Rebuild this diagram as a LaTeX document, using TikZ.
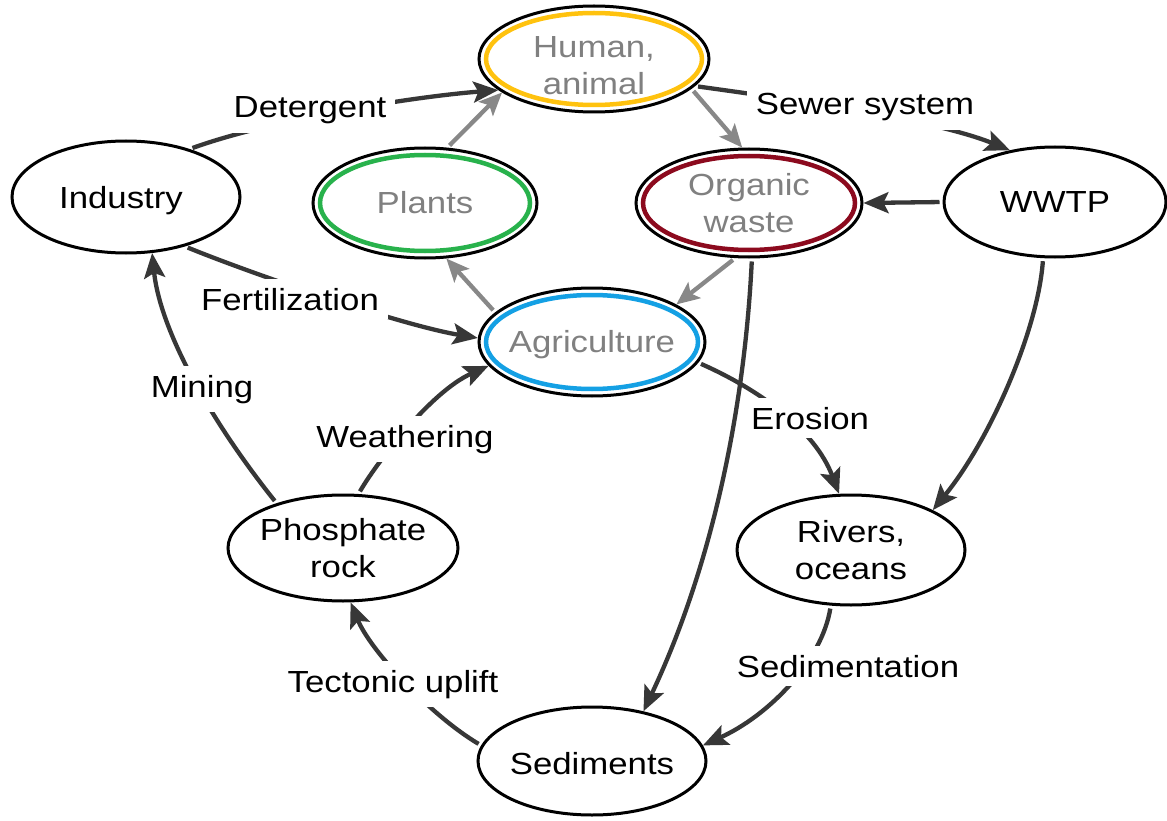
\documentclass[tikz,border=0pt]{standalone}
\usepackage{fontspec}
\setmainfont[FakeStretch=1.14]{Liberation Sans}
\usetikzlibrary{arrows.meta,shapes.geometric}
\definecolor{flowdark}{RGB}{55,55,55}
\definecolor{flowgray}{RGB}{136,136,136}
\definecolor{textgray}{RGB}{128,128,128}
\definecolor{ringyellow}{RGB}{255,194,14}
\definecolor{ringgreen}{RGB}{40,178,76}
\definecolor{ringred}{RGB}{140,10,30}
\definecolor{ringblue}{RGB}{20,160,228}
\begin{document}
\begin{tikzpicture}[x=1pt,y=-1pt,
  every node/.style={font=\fontsize{30.5}{37}\selectfont},
  pool/.style={ellipse, draw=black, line width=3pt, fill=white, inner sep=0pt},
  poolname/.style={align=center, text=black, inner sep=0pt},
  biopoolname/.style={align=center, text=textgray, inner sep=0pt},
  ring/.style={draw=#1, line width=4.5pt},
  flow/.style={draw=flowdark, line width=4.3pt, shorten <=3pt,
    -{Stealth[length=25pt,width=21pt,inset=5pt]}},
  sideflow/.style={draw=flowgray, line width=4.3pt, shorten <=3pt,
    -{Stealth[length=23pt,width=20pt,inset=5pt]}},
  flowlabel/.style={fill=white, inner sep=9pt, anchor=base}
]
\fill[white] (0,0) rectangle (1167,821);
\useasboundingbox (0,0) rectangle (1167,821);

% phosphorus pools
\node[pool, minimum width=230pt, minimum height=106pt] (hum)  at (594,59)  {};
\node[pool, minimum width=224pt, minimum height=110pt] (pla)  at (425,203) {};
\node[pool, minimum width=226pt, minimum height=108pt] (org)  at (749,203) {};
\node[pool, minimum width=226pt, minimum height=108pt] (agr)  at (592,342) {};
\node[pool, minimum width=228pt, minimum height=112pt] (ind)  at (126,197) {};
\node[pool, minimum width=222pt, minimum height=110pt] (wwtp) at (1055,202) {};
\node[pool, minimum width=230pt, minimum height=106pt] (pho)  at (343,548) {};
\node[pool, minimum width=228pt, minimum height=110pt] (riv)  at (851,550) {};
\node[pool, minimum width=228pt, minimum height=108pt] (sed)  at (592,761) {};

% coloured inner rings of the biological pools
\draw[ring=ringyellow] (hum.center) ellipse [x radius=108, y radius=46];
\draw[ring=ringgreen]  (pla.center) ellipse [x radius=105, y radius=48];
\draw[ring=ringred]    (org.center) ellipse [x radius=106, y radius=47];
\draw[ring=ringblue]   (agr.center) ellipse [x radius=106, y radius=47];

% pool names
\node[biopoolname] at ([yshift=-7pt]hum.center) {Human,\\animal};
\node[biopoolname] at (pla) {Plants};
\node[biopoolname] at (org) {Organic\\waste};
\node[biopoolname] at ([yshift=-3pt]agr.center) {Agriculture};
\node[poolname] at ([xshift=-5pt,yshift=-4pt]ind.center) {Industry};
\node[poolname] at (wwtp) {WWTP};
\node[poolname] at (pho) {Phosphate\\rock};
\node[poolname] at (riv) {Rivers,\\oceans};
\node[poolname] at ([yshift=-3pt]sed.center) {Sediments};

% flows inside the biological cycle
\draw[sideflow] (pla.68) -- (hum.200);
\draw[sideflow] (hum.343) -- (org.97);
\draw[sideflow] (org.256) -- (agr.24);
\draw[sideflow] (agr.163) -- (pla.291);

% main flows
\draw[flow] (ind.37) .. controls (270,120) and (410,97) .. (hum.198);
\draw[flow] (hum.345) .. controls (780,98) and (930,118) .. (wwtp.131);
\draw[flow] (wwtp.180) -- (org.0);
\draw[flow] (ind.320) .. controls (250,273) and (400,325) .. (agr.178);
\draw[flow] (pho.146) .. controls (210,420) and (160,330) .. (ind.295);
\draw[flow] (pho.74) .. controls (375,465) and (430,392) .. (agr.193);
\draw[flow] (agr.349) .. controls (760,390) and (815,430) .. (riv.102);
\draw[flow] (wwtp.258) .. controls (1038,330) and (990,440) .. (riv.26);
\draw[flow] (org.273) .. controls (745,400) and (715,560) .. (sed.44);
\draw[flow] (riv.250) .. controls (822,660) and (770,715) .. (sed.8);
\draw[flow] (sed.172) .. controls (430,715) and (370,650) .. (pho.278);

% flow labels
\node[flowlabel] (det) at (310,118) {Detergent};
\node[flowlabel] (sew) at (865,115) {Sewer system};
\node[flowlabel] (fer) at (290,310) {Fertilization};
\node[flowlabel] (min) at (202,397) {Mining};
\node[flowlabel] (wea) at (405,447) {Weathering};
\node[flowlabel] (ero) at (810,429) {Erosion};
\node[flowlabel] (tec) at (393,692) {Tectonic uplift};
\node[flowlabel] (sdm) at (848,677) {Sedimentation};
\end{tikzpicture}
\end{document}
